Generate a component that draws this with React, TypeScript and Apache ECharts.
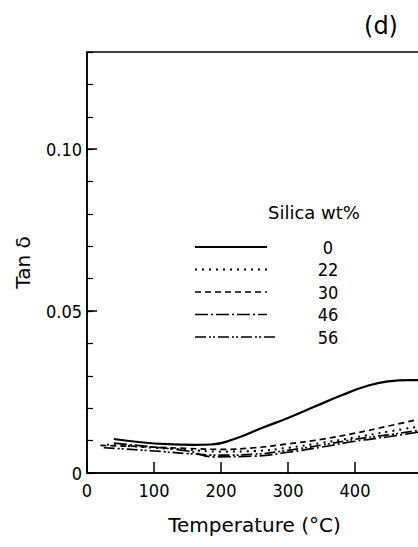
import React, { useEffect, useRef } from "react";
import * as echarts from "echarts";

const seriesNames = ["0", "22", "30", "46", "56"];

const temp0 = [40, 80, 120, 160, 185, 220, 260, 300, 340, 380, 420, 450, 480, 500];
const tan0 = [0.0105, 0.0095, 0.0089, 0.0087, 0.0088, 0.0105, 0.0138, 0.017, 0.0205, 0.024, 0.027, 0.0283, 0.0287, 0.0286];

const temp22 = [30, 100, 150, 200, 250, 300, 350, 400, 450, 500];
const tan22 = [0.0088, 0.0078, 0.0072, 0.0066, 0.0068, 0.0078, 0.0093, 0.011, 0.0128, 0.0145];

const temp30 = [20, 60, 100, 150, 200, 250, 300, 350, 400, 450, 500];
const tan30 = [0.0085, 0.0083, 0.008, 0.0076, 0.0073, 0.0078, 0.009, 0.0104, 0.0123, 0.0145, 0.0168];

const temp46 = [40, 100, 150, 190, 250, 300, 350, 400, 450, 500];
const tan46 = [0.0092, 0.008, 0.0068, 0.005, 0.0052, 0.0064, 0.008, 0.0098, 0.0112, 0.0128];

const temp56 = [25, 100, 150, 200, 250, 300, 350, 400, 450, 500];
const tan56 = [0.0078, 0.0068, 0.006, 0.0055, 0.0058, 0.007, 0.0086, 0.0104, 0.0118, 0.0133];

const xTickLabels = ["0", "100", "200", "300", "400"];
const yTickLabels = ["0", "0.05", "0.10"];

const allTemps = [temp0, temp22, temp30, temp46, temp56];
const allTans = [tan0, tan22, tan30, tan46, tan56];

const dashes: (number[] | null)[] = [null, [2, 5], [6, 4], [13, 3, 2, 3], [11, 3, 2, 2, 2, 3]];
const widths = [2.2, 2, 1.7, 1.7, 1.7];

const FONT = "'DejaVu Sans Condensed', 'DejaVu Sans', sans-serif";

export default function App() {
  const ref = useRef<HTMLDivElement>(null);
  useEffect(() => {
    if (!ref.current) return;
    const chart = echarts.init(ref.current, undefined, { renderer: "svg" });

    const series = seriesNames.map((name, i) => ({
      name,
      type: "line",
      smooth: true,
      symbol: "none",
      xAxisIndex: 0,
      yAxisIndex: 0,
      lineStyle: {
        color: "#000",
        width: widths[i],
        type: dashes[i] ? dashes[i] : "solid",
      },
      data: allTemps[i].map((t, j) => [t, allTans[i][j]]),
    }));

    const legendGraphics: any[] = [];
    const rowY0 = 247;
    const rowStep = 22.5;
    seriesNames.forEach((name, i) => {
      const y = rowY0 + i * rowStep;
      legendGraphics.push({
        type: "line",
        shape: { x1: 195, y1: y, x2: i === 4 ? 275 : 267, y2: y },
        style: { stroke: "#000", lineWidth: widths[i], lineDash: dashes[i] || undefined },
      });
      legendGraphics.push({
        type: "text",
        x: 328,
        y,
        style: { text: name, font: `18px ${FONT}`, fill: "#000", align: "center", verticalAlign: "middle" },
      });
    });

    chart.setOption({
      animation: false,
      backgroundColor: "#fff",
      grid: {
        left: 87,
        top: 52,
        right: -4,
        bottom: 74,
        outerBoundsMode: "none",
        containLabel: false,
        show: true,
        borderColor: "#000",
        borderWidth: 1.5,
      },
      xAxis: [
        {
          type: "value",
          min: 0,
          max: 500,
          interval: 100,
          name: "Temperature (°C)",
          nameLocation: "middle",
          nameGap: 42,
          nameTextStyle: { fontFamily: "'DejaVu Sans', sans-serif", fontSize: 20, color: "#000" },
          axisLine: { show: true, lineStyle: { color: "#000", width: 1.5 } },
          axisTick: { show: true, inside: true, length: 11, lineStyle: { color: "#000", width: 1.5 } },
          axisLabel: {
            color: "#000",
            fontFamily: FONT,
            fontSize: 18,
            margin: 8,
            formatter: (v: number) => {
              const idx = Math.round(v / 100);
              return Math.abs(v - idx * 100) < 1e-6 && idx < xTickLabels.length ? xTickLabels[idx] : "";
            },
          },
          splitLine: { show: false },
        },
      ],
      yAxis: [
        {
          type: "value",
          min: 0,
          max: 0.13,
          interval: 0.05,
          name: "Tan δ",
          nameLocation: "middle",
          nameGap: 54,
          nameRotate: 90,
          nameTextStyle: { fontFamily: "'DejaVu Sans', sans-serif", fontSize: 20, color: "#000" },
          axisLine: { show: true, lineStyle: { color: "#000", width: 1.5 } },
          axisTick: { show: true, inside: true, length: 10, lineStyle: { color: "#000", width: 1.5 } },
          axisLabel: {
            color: "#000",
            fontFamily: FONT,
            fontSize: 18,
            margin: 5,
            showMaxLabel: false,
            formatter: (v: number) => {
              const idx = Math.round(v / 0.05);
              return Math.abs(v - idx * 0.05) < 1e-6 && idx < yTickLabels.length ? yTickLabels[idx] : "";
            },
          },
          splitLine: { show: false },
        },
        {
          type: "value",
          min: 0,
          max: 0.13,
          interval: 0.01,
          position: "left",
          axisLine: { show: false },
          axisTick: { show: true, inside: true, length: 6, lineStyle: { color: "#000", width: 1.2 } },
          axisLabel: { show: false },
          splitLine: { show: false },
        },
      ],
      series,
      graphic: [
        {
          type: "text",
          x: 381,
          y: 26,
          style: { text: "(d)", font: `24px 'DejaVu Sans', sans-serif`, fill: "#000", align: "center", verticalAlign: "middle" },
        },
        {
          type: "text",
          x: 268,
          y: 212,
          style: { text: "Silica wt%", font: `18px 'DejaVu Sans', sans-serif`, fill: "#000", align: "left", verticalAlign: "middle" },
        },
        ...legendGraphics,
      ],
    });
    return () => chart.dispose();
  }, []);
  return (
    <div
      ref={ref}
      style={{ position: "fixed", left: 0, top: 0, width: 418, height: 547, background: "#fff" }}
    />
  );
}
